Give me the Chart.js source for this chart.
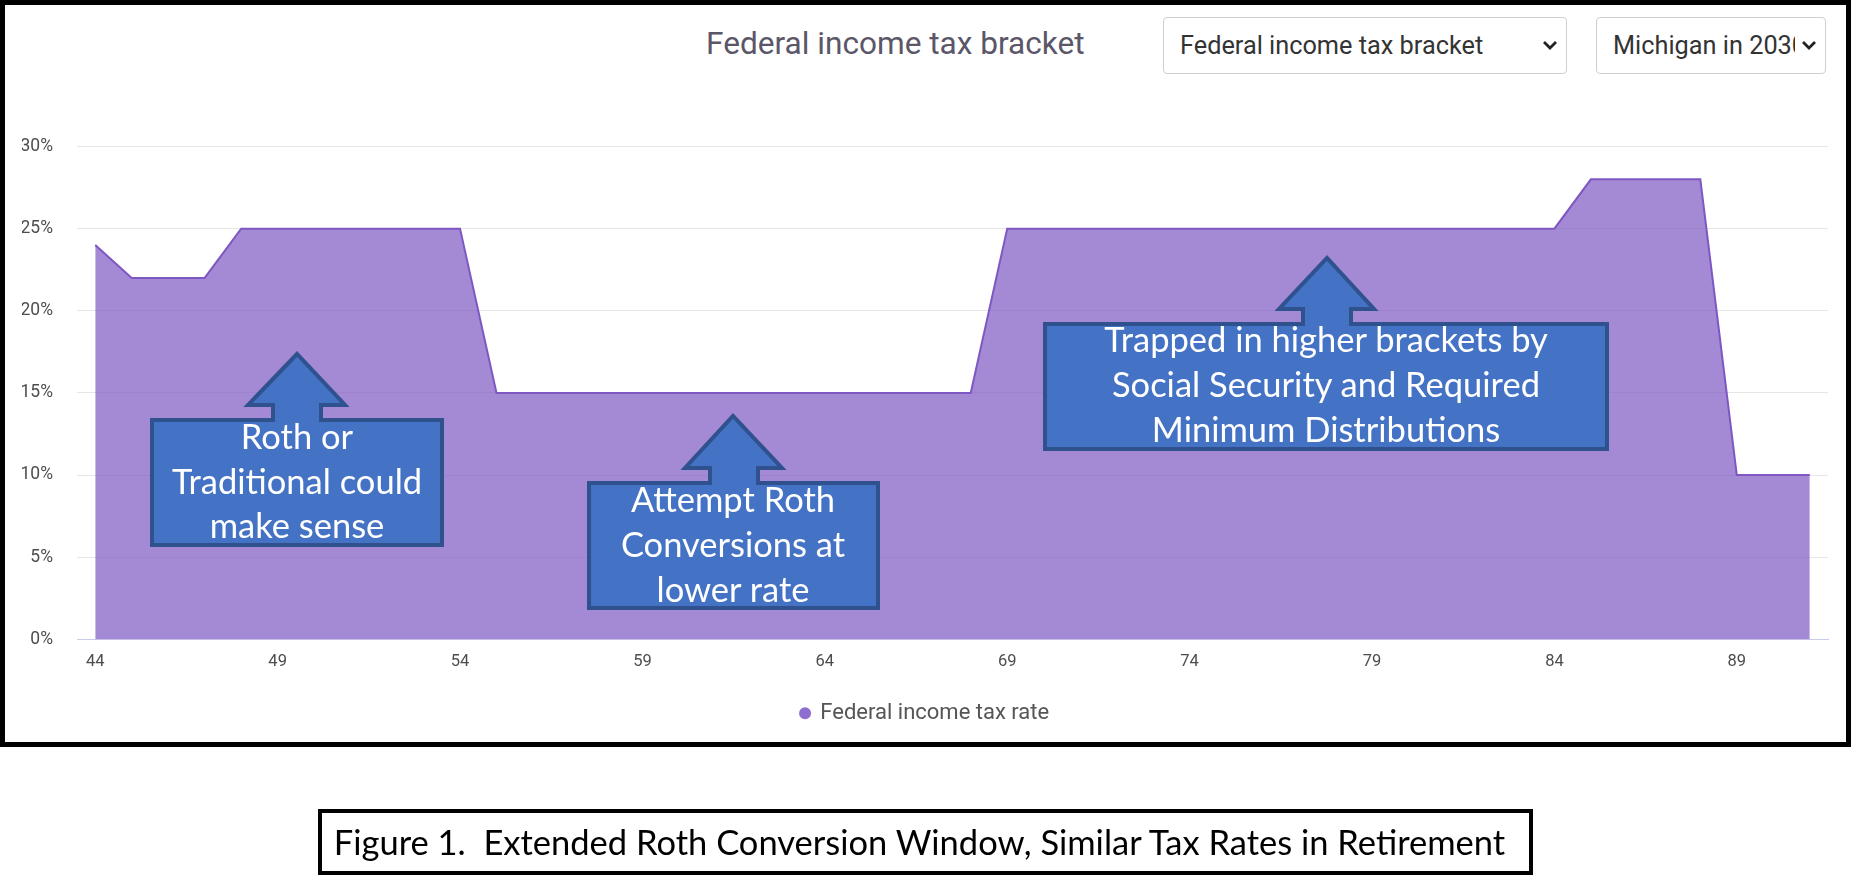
<!DOCTYPE html>
<html>
<head>
<meta charset="utf-8">
<script src="https://cdn.jsdelivr.net/npm/chart.js@4.4.1/dist/chart.umd.min.js"></script>
<style>
    html, body { margin: 0; padding: 0; background: #fff; }
    #page { position: relative; width: 1852px; height: 887px; overflow: hidden; }
    #frame { position: absolute; left: 0; top: 0; width: 1841px; height: 737px; border: 5px solid #000; }
    #title { position: absolute; left: 706px; top: 27px; font: 400 31.6px Roboto, sans-serif; line-height: 34px; color: #5b5668; white-space: nowrap; }
    .pick { position: absolute; top: 17px; height: 55px; border: 1px solid #cfcfcf; border-radius: 4px; background: #fff; overflow: hidden; }
    .pick span { position: absolute; left: 16px; top: 13px; font: 400 25.3px Roboto, sans-serif; line-height: 30px; color: #333; white-space: nowrap; overflow: hidden; }
    .pick svg { position: absolute; top: 22px; }
    #wrap { position: absolute; left: 5px; top: 100px; width: 1840px; height: 640px; }
    #notes { position: absolute; left: 0; top: 0; pointer-events: none; }
    #caption { position: absolute; left: 318px; top: 809px; width: 1195px; height: 58px; padding-right: 12px; border: 4px solid #000; font: 400 34.5px Lato, sans-serif; line-height: 58px; text-align: center; color: #000; white-space: pre; }
</style>
</head>
<body>
<div id="page">
    <div id="frame"></div>
    <div id="title">Federal income tax bracket</div>
    <div class="pick" style="left:1163px; width:402px;">
        <span style="width:340px;">Federal income tax bracket</span>
        <svg style="left:378px" width="16" height="11" viewBox="0 0 16 11"><path d="M2 2 L8 8 L14 2" fill="none" stroke="#222" stroke-width="2.8"/></svg>
    </div>
    <div class="pick" style="left:1596px; width:228px;">
        <span style="width:182px;">Michigan in 2030</span>
        <svg style="left:204px" width="16" height="11" viewBox="0 0 16 11"><path d="M2 2 L8 8 L14 2" fill="none" stroke="#222" stroke-width="2.8"/></svg>
    </div>
    <div id="wrap"><canvas id="myChart"></canvas></div>

    <svg id="notes" width="1852" height="887">
        <g fill="#4472c4" stroke="#2f528f" stroke-width="4" stroke-linejoin="miter">
            <path d="M152 420 L273 420 L273 405 L248 405 L297 354 L345 405 L321 405 L321 420 L442 420 L442 545 L152 545 Z"/>
            <path d="M589 483 L710 483 L710 468 L685 468 L733 416 L782 468 L758 468 L758 483 L878 483 L878 608 L589 608 Z"/>
            <path d="M1045 324 L1303 324 L1303 309 L1279 309 L1327 258 L1374 309 L1351 309 L1351 324 L1607 324 L1607 449 L1045 449 Z"/>
        </g>
        <g fill="#fff" font-family="Lato, sans-serif" font-size="34.5" text-anchor="middle">
            <text x="297" y="449">Roth or</text>
            <text x="297" y="494">Traditional could</text>
            <text x="297" y="538">make sense</text>
            <text x="733" y="512">Attempt Roth</text>
            <text x="733" y="557">Conversions at</text>
            <text x="733" y="602">lower rate</text>
            <text x="1326" y="352">Trapped in higher brackets by</text>
            <text x="1326" y="397">Social Security and Required</text>
            <text x="1326" y="442">Minimum Distributions</text>
        </g>
    </svg>

    <div id="caption">Figure 1.  Extended Roth Conversion Window, Similar Tax Rates in Retirement</div>
</div>

<script>
const ages = [44, 45, 46, 47, 48, 49, 50, 51, 52, 53, 54, 55, 56, 57, 58, 59,
              60, 61, 62, 63, 64, 65, 66, 67, 68, 69, 70, 71, 72, 73, 74, 75,
              76, 77, 78, 79, 80, 81, 82, 83, 84, 85, 86, 87, 88, 89, 90, 91];

const taxRates = [24, 22, 22, 22, 25, 25, 25, 25, 25, 25, 25, 15, 15, 15, 15, 15,
                  15, 15, 15, 15, 15, 15, 15, 15, 15, 25, 25, 25, 25, 25, 25, 25,
                  25, 25, 25, 25, 25, 25, 25, 25, 25, 28, 28, 28, 28, 10, 10, 10];

const yTicks = [0, 5, 10, 15, 20, 25, 30];

const seriesName = 'Federal income tax rate';

const createChart = () => {
    const ctx = document.getElementById('myChart');

    new Chart(ctx, {
        type: 'line',
        data: {
            labels: ages,
            datasets: [{
                label: seriesName,
                data: taxRates,
                borderColor: '#7e57c2',
                backgroundColor: 'rgba(126, 87, 194, 0.7)',
                borderWidth: 2,
                fill: 'origin',
                tension: 0,
                pointRadius: 0
            }]
        },
        options: {
            responsive: true,
            maintainAspectRatio: false,
            animation: false,
            layout: {
                padding: { top: 46.5, right: 17, bottom: 5.8, left: 17 }
            },
            scales: {
                x: {
                    offset: true,
                    grid: { display: false },
                    border: { color: '#c9cbe8' },
                    ticks: {
                        autoSkip: false,
                        maxRotation: 0,
                        padding: 5,
                        color: '#4d4d4d',
                        font: { family: 'Roboto', size: 16.5 },
                        callback: function(value, index) {
                            return index % 5 === 0 ? this.getLabelForValue(value) : '';
                        }
                    }
                },
                y: {
                    min: yTicks[0],
                    max: yTicks[yTicks.length - 1],
                    afterFit: (scale) => { scale.width = 55; },
                    afterBuildTicks: (scale) => {
                        scale.ticks = yTicks.map((v) => ({ value: v }));
                    },
                    grid: { color: '#e6e6e6', drawTicks: false },
                    border: { display: false },
                    ticks: {
                        padding: 24,
                        color: '#4d4d4d',
                        font: { family: 'Roboto', size: 17.5 },
                        callback: (value) => value + '%'
                    }
                }
            },
            plugins: {
                tooltip: { enabled: false },
                legend: {
                    position: 'bottom',
                    labels: {
                        usePointStyle: true,
                        pointStyle: 'circle',
                        boxWidth: 8.5,
                        boxHeight: 8.5,
                        padding: 25,
                        color: '#555',
                        font: { family: 'Roboto', size: 22 },
                        generateLabels: (chart) => Chart.defaults.plugins.legend.labels.generateLabels(chart)
                            .map((item) => ({ ...item, fillStyle: '#8e6fd0', strokeStyle: '#8e6fd0', lineWidth: 0 }))
                    }
                }
            }
        }
    });
}

createChart();
</script>
</body>
</html>
